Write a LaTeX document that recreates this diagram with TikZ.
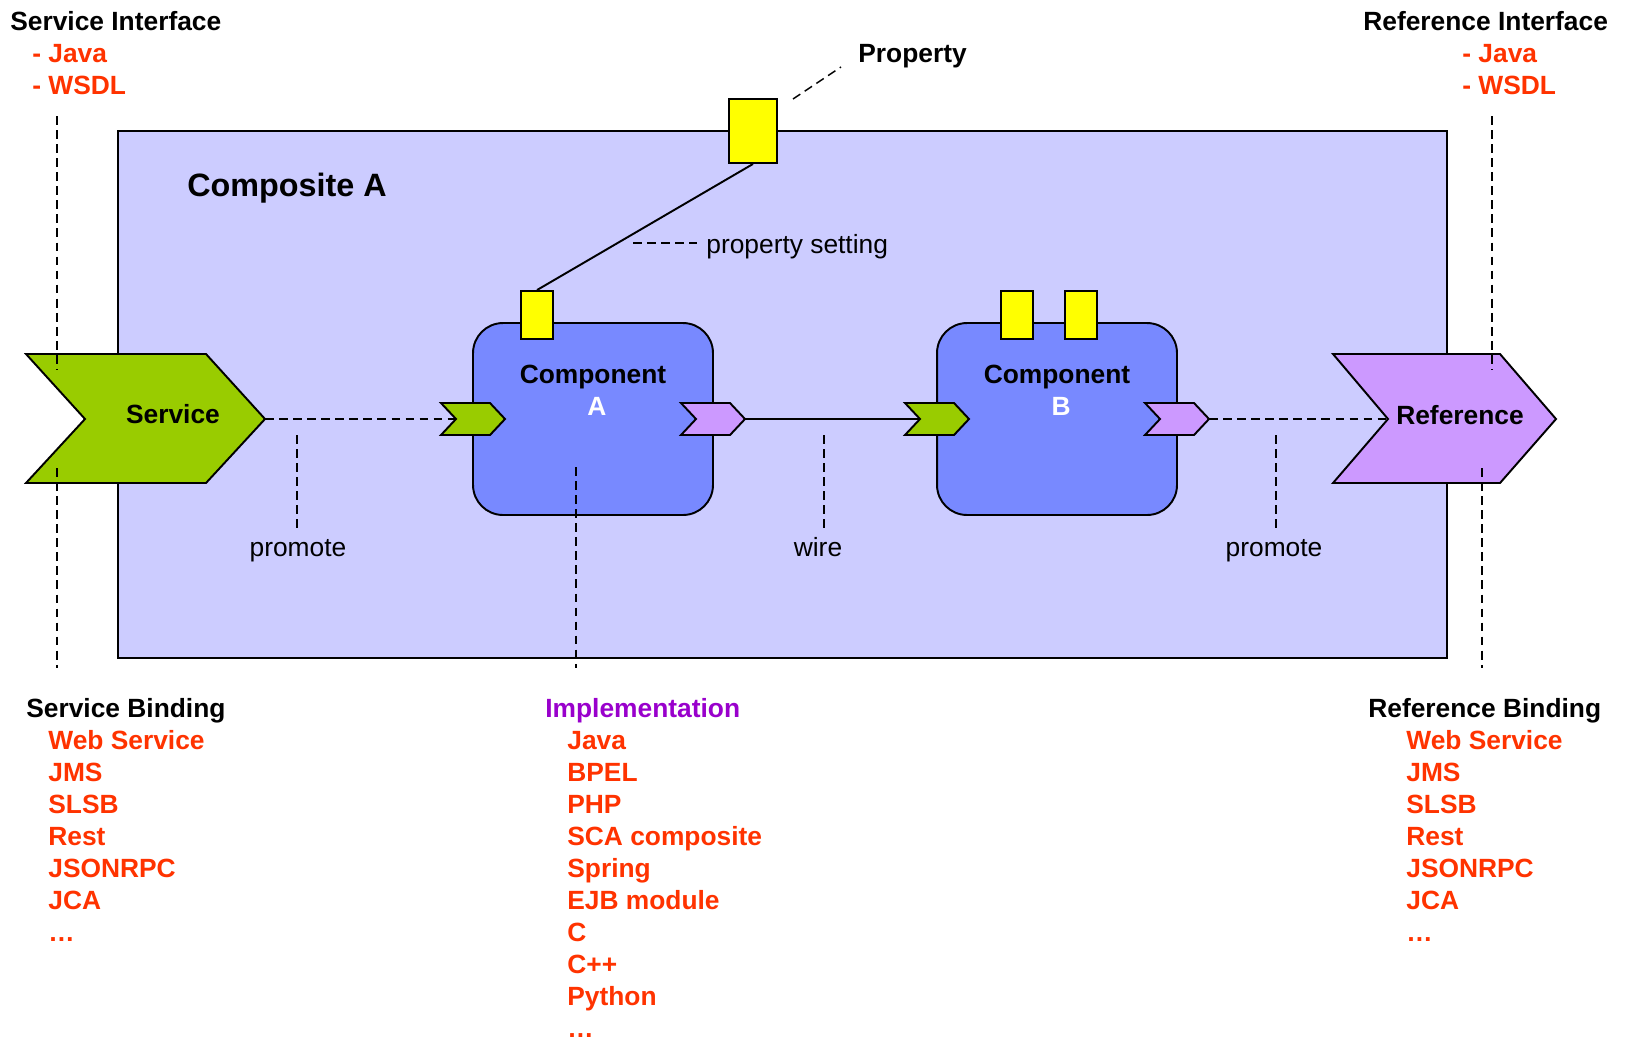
\documentclass[tikz,border=0pt]{standalone}
\usepackage{fontspec}
\setmainfont{Liberation Sans}

\definecolor{compbg}{HTML}{CCCCFF}
\definecolor{compblue}{HTML}{7889FF}
\definecolor{svcgreen}{HTML}{99CC00}
\definecolor{refpurple}{HTML}{CC99FF}
\definecolor{propyellow}{HTML}{FFFF00}
\definecolor{itemred}{HTML}{FF3300}
\definecolor{implpurple}{HTML}{9900CC}

\begin{document}
\begin{tikzpicture}[x=0.02cm, y=-0.02cm,
        txt/.style={inner sep=0, font=\fontsize{15}{18}\selectfont},
        head/.style={inner sep=0, anchor=base west, font=\bfseries\fontsize{15}{18}\selectfont},
        item/.style={head, text=itemred},
        lead/.style={line width=0.85pt, dash pattern=on 5pt off 3pt},
        outline/.style={draw, line width=1.1pt},
        comp/.style={outline, fill=compblue, rounded corners=0.6cm,
                minimum width=4.8cm, minimum height=3.84cm},
        prop/.style={outline, fill=propyellow, inner sep=0,
                minimum width=0.64cm, minimum height=0.96cm},
        port/.pic={\path[pic actions] (-24,-16) -- (25,-16) -- (40,0) coordinate (-tip)
                -- (25,16) -- (-24,16) -- (-9,0) coordinate (-notch) -- cycle;}
    ]
    \useasboundingbox (0,0) rectangle (1625,1042);

    % composite with its property
    \node[outline, fill=compbg, minimum width=26.58cm, minimum height=10.54cm] (composite) at (782.5,394.5) {};
    \node[head, font=\bfseries\fontsize{18.4}{21}\selectfont] (compname) at (187,196) {Composite A};
    \node[prop, minimum width=0.96cm, minimum height=1.28cm] (prop) at (753,131) {};
    \node[head] (propname) at (858,62) {Property};

    % components
    \node[comp] (cmpA) at (593,419) {};
    \node[comp] (cmpB) at (1057,419) {};
    \node[head, anchor=base] (cmpA name) at (593,383) {Component};
    \node[head, anchor=base, text=white] (cmpA id) at (597,415) {A};
    \node[head, anchor=base] (cmpB name) at (1057,383) {Component};
    \node[head, anchor=base, text=white] (cmpB id) at (1061,415) {B};
    \node[prop] (propA) at (537,315) {};
    \node[prop] (propB1) at (1017,315) {};
    \node[prop] (propB2) at (1081,315) {};

    \draw[line width=1.1pt] (prop.south) -- (propA.north);
    \node[txt, anchor=base west] (setting) at (706,253) {property setting};

    % promoted service and reference
    \draw[outline, fill=svcgreen] (26,354) -- (206,354) -- (265,419) coordinate (svc-tip)
        -- (206,483) -- (26,483) -- (85,419) -- cycle;
    \draw[outline, fill=refpurple] (1333,354) -- (1500,354) -- (1556,419)
        -- (1500,483) -- (1333,483) -- (1388,419) coordinate (ref-notch) -- cycle;
    \node[head, anchor=base] (svcname) at (173,423) {Service};
    \node[head, anchor=base] (refname) at (1460,424) {Reference};

    % ports of the components
    \pic[outline, fill=svcgreen] (svcA) at (465,419) {port};
    \pic[outline, fill=refpurple] (refA) at (705,419) {port};
    \pic[outline, fill=svcgreen] (svcB) at (929,419) {port};
    \pic[outline, fill=refpurple] (refB) at (1169,419) {port};

    \draw[lead] (svc-tip) -- (svcA-notch);
    \draw[line width=1.1pt] (refA-tip) -- (svcB-notch);
    \draw[lead] (refB-tip) -- (ref-notch);

    \node[txt, anchor=base] (promL) at (298,556) {promote};
    \node[txt, anchor=base] (wire) at (818,556) {wire};
    \node[txt, anchor=base] (promR) at (1274,556) {promote};

    % pointer lines
    \foreach \nm/\xa/\ya/\xb/\yb in {sif/57/116/57/370, sbind/57/468/57/668,
            rif/1492/116/1492/370, rbind/1482/468/1482/668, impl/576/467/576/668,
            promL/297/435/297/528, wire/824/435/824/528, promR/1276/435/1276/528,
            prop/793/99/841/67, setting/633/243/697/243} {
        \coordinate (\nm-a) at (\xa,\ya);
        \coordinate (\nm-b) at (\xb,\yb);
        \draw[lead] (\nm-a) -- (\nm-b);
    }

    % interfaces
    \node[head] (sif) at (10,30) {Service Interface};
    \node[item] (sif1) at (32,62) {- Java};
    \node[item] (sif2) at (32,94) {- WSDL};
    \node[head] (rif) at (1363,30) {Reference Interface};
    \node[item] (rif1) at (1462,62) {- Java};
    \node[item] (rif2) at (1462,94) {- WSDL};

    % bindings and implementations
    \node[head] (sbind) at (26,717) {Service Binding};
    \foreach \t [count=\i] in {Web Service, JMS, SLSB, Rest, JSONRPC, JCA, \dots}
        \node[item] (sbind\i) at (48,717+32*\i) {\t};
    \node[head, text=implpurple] (impl) at (545,717) {Implementation};
    \foreach \t [count=\i] in {Java, BPEL, PHP, SCA composite, Spring, EJB module, C, C++, Python, \dots}
        \node[item] (impl\i) at (567,717+32*\i) {\t};
    \node[head] (rbind) at (1368,717) {Reference Binding};
    \foreach \t [count=\i] in {Web Service, JMS, SLSB, Rest, JSONRPC, JCA, \dots}
        \node[item] (rbind\i) at (1406,717+32*\i) {\t};
\end{tikzpicture}
\end{document}
